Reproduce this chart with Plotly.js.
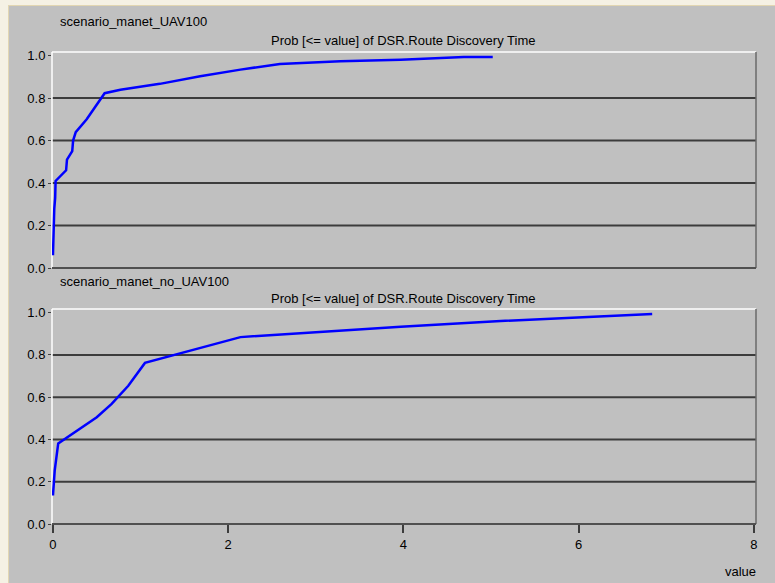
<!DOCTYPE html>
<html>
<head>
<meta charset="utf-8">
<script src="https://cdn.plot.ly/plotly-3.0.1.min.js"></script>
<style>html,body{margin:0;padding:0;background:#f5f1e4;}#chart{width:775px;height:583px;}</style>
</head>
<body>
<div id="chart"></div>
<script>
// ---- data ----
const panelNames = ["scenario_manet_UAV100", "scenario_manet_no_UAV100"];
const chartTitle = "Prob [<= value] of DSR.Route Discovery Time";
const xTickVals = [0, 2, 4, 6, 8];
const yTickVals = [0, 0.2, 0.4, 0.6, 0.8, 1.0];
const yTickText = ["0.0", "0.2", "0.4", "0.6", "0.8", "1.0"];

const uavX = [0.0, 0.005, 0.015, 0.025, 0.03, 0.15, 0.16, 0.22, 0.23, 0.26, 0.385, 0.59, 0.77, 1.22, 1.68, 2.14, 2.59, 3.28, 3.97, 4.69, 5.02];
const uavY = [0.06, 0.147, 0.28, 0.33, 0.41, 0.46, 0.51, 0.55, 0.60, 0.64, 0.70, 0.823, 0.839, 0.867, 0.903, 0.934, 0.961, 0.973, 0.981, 0.994, 0.994];

const noUavX = [0.0, 0.01, 0.02, 0.06, 0.5, 0.67, 0.78, 0.86, 1.05, 2.14, 3.97, 5.11, 6.84];
const noUavY = [0.135, 0.193, 0.254, 0.381, 0.505, 0.568, 0.616, 0.654, 0.762, 0.884, 0.933, 0.96, 0.993];

// ---- layout helpers (pixel -> paper) ----
const W = 775, H = 583, ML = 52, MR = 19, MT = 52, MB = 59;
const PW = W - ML - MR, PH = H - MT - MB;
const px = p => (p - ML) / PW;
const py = q => (H - MB - q) / PH;

const fontFam = "Liberation Sans, Arial, sans-serif";
const fontSize = 13;
const lineStyle = {color: "#0000ff", width: 2.5};

const traces = [
  {x: uavX, y: uavY, xaxis: "x", yaxis: "y", mode: "lines", line: lineStyle, hoverinfo: "skip"},
  {x: noUavX, y: noUavY, xaxis: "x2", yaxis: "y2", mode: "lines", line: lineStyle, hoverinfo: "skip"}
];

const yAxisCommon = {
  range: [0, 1.017], tickvals: yTickVals, ticktext: yTickText,
  showgrid: false, zeroline: false, showline: false,
  ticks: "outside", ticklen: 3, tickcolor: "#404040",
  tickfont: {family: fontFam, size: fontSize, color: "#000"}, fixedrange: true
};
const xAxisCommon = {
  range: [-0.011, 8.025], showgrid: false, zeroline: false, showline: false, fixedrange: true
};

function frameShapes(xr, yr) {
  const xd = xr + " domain", yd = yr + " domain";
  const s = [];
  [0.2, 0.4, 0.6, 0.8].forEach(v => s.push({type: "line", xref: xd, yref: yr, x0: 0, x1: 1, y0: v, y1: v, line: {color: "#3c3c3c", width: 2}, layer: "below"}));
  s.push({type: "line", xref: xd, yref: yd, x0: 0, x1: 0, y0: 0, y1: 1, line: {color: "#ffffff", width: 1.5}, layer: "below"});
  s.push({type: "line", xref: xd, yref: yd, x0: 0, x1: 1, y0: 1, y1: 1, line: {color: "#ffffff", width: 1.5}, layer: "below"});
  s.push({type: "line", xref: xd, yref: yd, x0: 1, x1: 1, y0: 0, y1: 1, line: {color: "#6a6a6a", width: 1.5}, layer: "below"});
  s.push({type: "line", xref: xd, yref: yd, x0: 0, x1: 1, y0: 0, y1: 0, line: {color: "#505050", width: 2}, layer: "below"});
  return s;
}

const shapes = [
  {type: "rect", xref: "paper", yref: "paper", x0: px(9), x1: px(776), y0: py(6), y1: py(584), fillcolor: "#c0c0c0", line: {width: 0}, layer: "below"},
  {type: "line", xref: "paper", yref: "paper", x0: px(8.5), x1: px(8.5), y0: py(5), y1: py(584), line: {color: "#e2d6b2", width: 1}, layer: "below"},
  {type: "line", xref: "paper", yref: "paper", x0: px(8), x1: px(776), y0: py(5.5), y1: py(5.5), line: {color: "#e2d6b2", width: 1}, layer: "below"}
].concat(frameShapes("x", "y"), frameShapes("x2", "y2"));

const annFont = {family: fontFam, size: fontSize, color: "#000"};
const annotations = [
  {text: panelNames[0], xref: "paper", yref: "paper", x: px(58), y: py(22), xanchor: "left", yanchor: "middle", showarrow: false, font: annFont},
  {text: chartTitle, xref: "paper", yref: "paper", x: px(403), y: py(41), xanchor: "center", yanchor: "middle", showarrow: false, font: annFont},
  {text: panelNames[1], xref: "paper", yref: "paper", x: px(58), y: py(281), xanchor: "left", yanchor: "middle", showarrow: false, font: annFont},
  {text: chartTitle, xref: "paper", yref: "paper", x: px(403), y: py(298), xanchor: "center", yanchor: "middle", showarrow: false, font: annFont},
  {text: "value", xref: "paper", yref: "paper", x: px(758), y: py(571), xanchor: "right", yanchor: "middle", showarrow: false, font: annFont}
];

const layout = {
  width: W, height: H,
  margin: {l: ML, r: MR, t: MT, b: MB, pad: 0},
  paper_bgcolor: "#f5f1e4", plot_bgcolor: "rgba(0,0,0,0)",
  showlegend: false,
  xaxis: Object.assign({}, xAxisCommon, {anchor: "y", domain: [0, 1], showticklabels: false, ticks: ""}),
  yaxis: Object.assign({}, yAxisCommon, {anchor: "x", domain: [py(268), 1]}),
  xaxis2: Object.assign({}, xAxisCommon, {anchor: "y2", domain: [0, 1], tickvals: xTickVals, ticktext: xTickVals.map(String),
    ticks: "outside", ticklen: 8, tickwidth: 2, tickcolor: "#3c3c3c", tickfont: {family: fontFam, size: fontSize, color: "#000"}}),
  yaxis2: Object.assign({}, yAxisCommon, {anchor: "x2", domain: [0, py(309)]}),
  shapes: shapes,
  annotations: annotations
};

Plotly.newPlot("chart", traces, layout, {staticPlot: true, displayModeBar: false});
</script>
</body>
</html>
